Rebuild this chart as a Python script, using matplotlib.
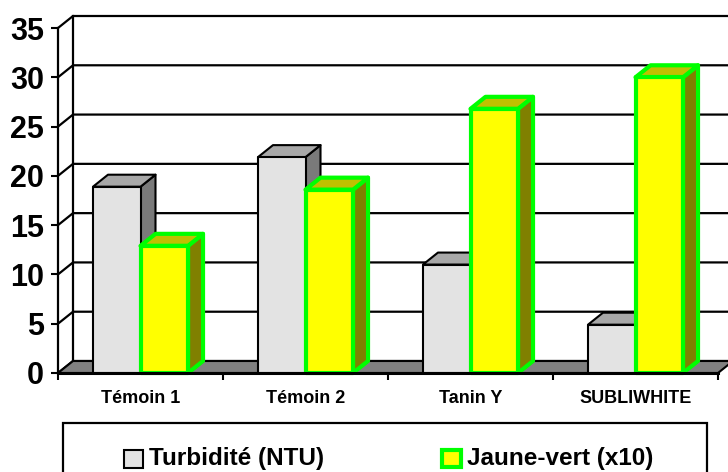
import matplotlib.pyplot as plt
from matplotlib.patches import Polygon, Rectangle

categories = ['Témoin 1', 'Témoin 2', 'Tanin Y', 'SUBLIWHITE']
turbidite = [18.9, 21.9, 11.0, 4.9]
jaune_vert = [12.9, 18.6, 26.8, 30.0]
series_names = ['Turbidité (NTU)', 'Jaune-vert (x10)']
yticks = [0, 5, 10, 15, 20, 25, 30, 35]

plt.rcParams['font.family'] = ['Liberation Sans', 'DejaVu Sans']
plt.rcParams['font.weight'] = 'bold'

W, H = 728, 472
fig = plt.figure(figsize=(W / 100, H / 100), dpi=100)
ax = fig.add_axes([58 / W, 99 / H, 660 / W, 345 / H])
ax.set_xlim(-0.5, 3.5)
ax.set_ylim(0, 35)

# depth of the pseudo-3D box, in data units
dx = 15 / 165
dy = 12 / (345 / 35)
x0, x1 = -0.5, 3.5

# back wall + left wall gridlines
for v in yticks:
    ax.plot([x0, x0 + dx, x1 + dx], [v, v + dy, v + dy],
            color='black', lw=1.6, clip_on=False, zorder=1)
ax.plot([x0 + dx, x0 + dx], [dy, 35 + dy], color='black', lw=1.6,
        clip_on=False, zorder=1)

# floor
ax.add_patch(Polygon([(x0, 0), (x1, 0), (x1 + dx, dy), (x0 + dx, dy)],
                     closed=True, facecolor='#808080', edgecolor='black',
                     lw=1.5, clip_on=False, zorder=2))

bw = 0.288


def bar3d(xl, val, front, top, side, edge, lw):
    xr = xl + bw
    kw = dict(closed=True, edgecolor=edge, lw=lw, clip_on=False,
              zorder=3, joinstyle='round')
    ax.add_patch(Polygon([(xr, 0), (xr + dx, dy), (xr + dx, val + dy), (xr, val)],
                         facecolor=side, **kw))
    ax.add_patch(Polygon([(xl, val), (xr, val), (xr + dx, val + dy), (xl + dx, val + dy)],
                         facecolor=top, **kw))
    ax.add_patch(Polygon([(xl, 0), (xr, 0), (xr, val), (xl, val)],
                         facecolor=front, **kw))


for i in range(len(categories)):
    bar3d(i - bw, turbidite[i], '#e3e3e3', '#a8a8a8', '#7a7a7a', 'black', 1.5)
    bar3d(i, jaune_vert[i], '#ffff00', '#c0c000', '#808000', '#00ff00', 3.0)

for s in ['top', 'right']:
    ax.spines[s].set_visible(False)
ax.spines['left'].set_linewidth(1.6)
ax.spines['bottom'].set_linewidth(2.2)
ax.spines['left'].set_zorder(4)
ax.spines['bottom'].set_zorder(4)

ax.set_yticks(yticks)
ax.tick_params(axis='y', direction='out', length=5, width=1.5,
               labelsize=22, pad=5)
ax.set_xticks(range(len(categories)))
ax.set_xticklabels(categories)
ax.set_xticks([-0.5, 0.5, 1.5, 2.5, 3.5], minor=True)
ax.tick_params(axis='x', which='major', length=0, labelsize=13, pad=12)
ax.tick_params(axis='x', which='minor', direction='out', length=5, width=1.5)
for lab in ax.get_yticklabels() + ax.get_xticklabels():
    lab.set_fontweight('bold')

# legend box (bottom runs off the picture)
fig.add_artist(Rectangle((63 / W, -0.05), (707 - 63) / W, (472 - 423) / H + 0.05,
                         transform=fig.transFigure, fill=False,
                         edgecolor='black', lw=1.6))
fig.add_artist(Rectangle((124 / W, (472 - 468) / H), 19 / W, 18 / H,
                         transform=fig.transFigure, facecolor='#e3e3e3',
                         edgecolor='black', lw=1.5))
fig.add_artist(Rectangle((442 / W, (472 - 467) / H), 19 / W, 17 / H,
                         transform=fig.transFigure, facecolor='#ffff00',
                         edgecolor='#00ff00', lw=3.0))
fig.text(149 / W, (472 - 459) / H, series_names[0], fontsize=17.5,
         fontweight='bold', va='center', ha='left')
fig.text(467 / W, (472 - 459) / H, series_names[1], fontsize=17.5,
         fontweight='bold', va='center', ha='left')

fig.savefig('out.png', dpi=100)
